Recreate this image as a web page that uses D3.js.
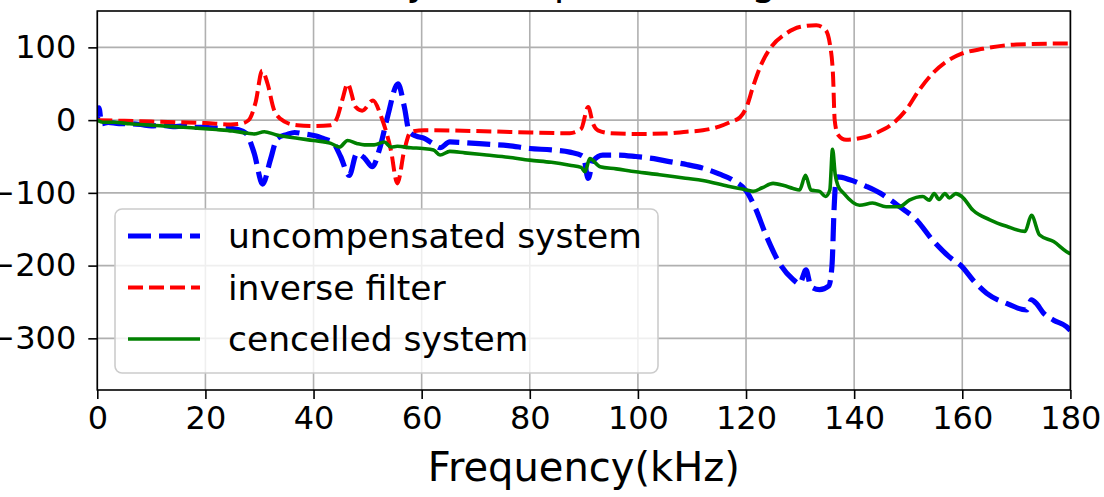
<!DOCTYPE html>
<html>
<head>
<meta charset="utf-8">
<script src="https://cdn.jsdelivr.net/npm/d3@7"></script>
<style>
  body { margin: 0; background: #fff; }
  svg { display: block; font-family: "DejaVu Sans", sans-serif; }
</style>
</head>
<body>
<div id="chart"></div>
<script>
// basic dimensions
var width = 1104;
var height = 497;
var margin = { top: 11, right: 33.6, bottom: 107, left: 97.3 };

// DATA (frequency in kHz, magnitude)
var xTicks = [0, 20, 40, 60, 80, 100, 120, 140, 160, 180];
var yTicks = [-300, -200, -100, 0, 100];
var seriesNames = ["uncompensated system", "inverse filter", "cencelled system"];
var titleText = "Summary of amplitude (log)";
var xLabel = "Frequency(kHz)";

var uncompensated = [
  [0, -2], [0.3, 17], [0.8, -5], [2, -3], [4, -5], [6, -5], [8, -6], [10, -8], [12, -7],
  [14, -9], [16, -8], [18, -10], [20, -10], [22, -11], [24, -11], [26, -13], [27.5, -18],
  [29, -45], [30.6, -88], [32, -55], [33.3, -25], [35, -20], [36.5, -17], [38.3, -19],
  [40.5, -22], [42, -26], [43.5, -30], [45, -50], [46.6, -76], [48, -46], [49.4, -52],
  [50.9, -64], [52.2, -40], [53.7, 5], [55.6, 50], [56.8, 18], [57.7, -16], [59, -22],
  [60.5, -25], [62, -32], [63.4, -38], [65.2, -30], [68, -31], [72, -33], [76, -35],
  [80, -39], [84, -41], [87.4, -44], [89.9, -50], [90.8, -80], [91.7, -56], [93.5, -48],
  [96, -48], [99.6, -50], [103, -53], [105.8, -57], [109, -61], [112, -66], [115, -74],
  [117.7, -83], [120.1, -98], [121.6, -119], [123.8, -160], [126.2, -197], [128.7, -219],
  [129.9, -225], [131.1, -206], [132, -229], [133.6, -233], [135.3, -228], [135.9, -200],
  [136.3, -120], [136.6, -85], [137, -78], [139.2, -82], [142.2, -91], [144.7, -100],
  [148.4, -119], [151.5, -137], [154.5, -165], [157.6, -188], [159.9, -201], [162, -220],
  [164.5, -238], [168.2, -252], [171.9, -261], [172.8, -247], [173.7, -252], [175, -265],
  [176.9, -275], [179.3, -284], [180, -289]
];

var inverseFilter = [
  [0, 0], [5, -1], [10, -2], [15, -3], [20, -4], [24.7, -6], [26.5, -5], [28, 0],
  [29.3, 25], [30.5, 68], [31.5, 50], [32.7, 14], [34.6, -2], [37, -7], [40, -8],
  [43.2, -7], [44.4, 4], [45.4, 30], [46.3, 50], [47.8, 18], [49, 13], [51, 27],
  [52.5, 5], [54.3, -41], [55.5, -87], [56.8, -41], [58, -16], [60.5, -14], [70, -15],
  [80, -17], [87.4, -18], [89.5, -12], [90.8, 18], [91.7, -5], [92.6, -14], [95, -18],
  [100, -19], [105, -18.5], [109, -16], [112, -14], [115, -9], [117, -3], [118.9, 4],
  [120.1, 18], [121.3, 46], [122.9, 78], [124.7, 101], [127.4, 119], [129.9, 128],
  [133, 130.5], [134.7, 124], [135.5, 105], [136.1, 60], [136.4, 0], [137, -20],
  [138.5, -27], [141, -25], [144, -18], [147.1, -5], [149.6, 14], [152, 41], [154.5, 64],
  [157, 80], [160, 91.6], [163.8, 98], [170, 104], [180, 105.5]
];

var cancelled = [
  [0, 0], [1, -3], [3, -3], [6, -5], [10, -7], [14, -9], [18.5, -11], [22, -13], [25, -15],
  [27.8, -18], [29, -19], [30.9, -16], [33, -20], [37, -25], [40, -28], [43.2, -32],
  [44.8, -37], [46.3, -28], [48, -32], [49.4, -34], [51.2, -34], [53.1, -30], [54.3, -37],
  [55.5, -36], [58, -38], [60.2, -39], [62.2, -41], [63.4, -48], [65.2, -43], [68, -45],
  [72, -48], [76, -51], [80, -55], [84, -58], [87.4, -62], [89.5, -65], [90.2, -71],
  [91.1, -53], [93, -64], [96, -67], [99.6, -71], [104, -75], [108.8, -80], [112, -83],
  [116.7, -91], [120.1, -96], [121.3, -98], [123, -93], [125, -87], [127, -90],
  [128.7, -94], [129.9, -96], [131, -76], [132, -96], [133.6, -98], [134.7, -105],
  [135.5, -96], [136, -40], [136.5, -75], [137, -90], [138, -100], [141, -117],
  [143.4, -114], [145.9, -119], [148.4, -119], [150.2, -110], [152.7, -105], [153.9, -110],
  [154.8, -101], [155.7, -109], [156.8, -101], [157.6, -107], [158.8, -101], [159.9, -105],
  [162, -124], [165.1, -137], [168.2, -146], [171.6, -153], [172.8, -131], [174.3, -158],
  [176.9, -167], [179.3, -181], [180, -184]
];

// styles for the three lines
var styles = [
  { data: uncompensated, colour: "#0000ff", width: 5.2, dash: "23,8" },
  { data: inverseFilter, colour: "#ff0000", width: 4, dash: "15,6" },
  { data: cancelled, colour: "#008000", width: 3.6, dash: null }
];

var innerW = width - margin.left - margin.right;
var innerH = height - margin.top - margin.bottom;

// SCALES
var xScale = d3.scaleLinear().domain([0, 180]).range([0, innerW]);
var yScale = d3.scaleLinear().domain([-371, 150]).range([innerH, 0]);

var lineGen = d3.line()
  .curve(d3.curveMonotoneX)
  .x(function(d) { return xScale(d[0]); })
  .y(function(d) { return yScale(d[1]); });

var svgRoot = d3.select("#chart")
  .append("svg")
  .attr("width", width)
  .attr("height", height);

// title, mostly cut off by the top edge
svgRoot.append("text")
  .attr("x", 241)
  .attr("y", -5)
  .style("font-size", "39px")
  .text(titleText);

var svg = svgRoot.append("g")
  .attr("transform", "translate(" + margin.left + "," + margin.top + ")");

svg.append("clipPath")
  .attr("id", "plotClip")
  .append("rect")
  .attr("width", innerW)
  .attr("height", innerH);

// grid
svg.append("g").selectAll("line.vg")
  .data(xTicks)
  .enter().append("line")
  .attr("x1", function(d) { return xScale(d); })
  .attr("x2", function(d) { return xScale(d); })
  .attr("y1", 0).attr("y2", innerH)
  .attr("stroke", "#b0b0b0").attr("stroke-width", 1.6);

svg.append("g").selectAll("line.hg")
  .data(yTicks)
  .enter().append("line")
  .attr("y1", function(d) { return yScale(d); })
  .attr("y2", function(d) { return yScale(d); })
  .attr("x1", 0).attr("x2", innerW)
  .attr("stroke", "#b0b0b0").attr("stroke-width", 1.6);

// lines
var plot = svg.append("g").attr("clip-path", "url(#plotClip)");
styles.forEach(function(s) {
  plot.append("path")
    .attr("d", lineGen(s.data))
    .attr("fill", "none")
    .attr("stroke", s.colour)
    .attr("stroke-width", s.width)
    .attr("stroke-dasharray", s.dash)
    .attr("stroke-linejoin", "round");
});

// frame
svg.append("rect")
  .attr("width", innerW).attr("height", innerH)
  .attr("fill", "none").attr("stroke", "#000").attr("stroke-width", 1.6);

// axes
var xAxis = svg.append("g")
  .attr("transform", "translate(0," + innerH + ")")
  .call(d3.axisBottom(xScale).tickValues(xTicks).tickSize(9).tickPadding(7));

var yAxis = svg.append("g")
  .call(d3.axisLeft(yScale).tickValues(yTicks).tickSize(9).tickPadding(12));

[xAxis, yAxis].forEach(function(ax) {
  ax.select(".domain").remove();
  ax.selectAll(".tick line").attr("stroke", "#000").attr("stroke-width", 1.6);
  ax.selectAll(".tick text")
    .attr("fill", "#000")
    .style("font-family", "DejaVu Sans")
    .style("font-size", "32px");
});

svg.append("text")
  .attr("x", innerW / 2)
  .attr("y", innerH + 91)
  .attr("text-anchor", "middle")
  .style("font-size", "40px")
  .text(xLabel);

// legend
var legend = svg.append("g").attr("transform", "translate(" + (115 - margin.left) + "," + (209 - margin.top) + ")");
legend.append("rect")
  .attr("width", 543).attr("height", 164)
  .attr("rx", 7).attr("ry", 7)
  .attr("fill", "#fff").attr("fill-opacity", 0.8)
  .attr("stroke", "#cccccc").attr("stroke-width", 1.6);

styles.forEach(function(s, i) {
  var y = 27 + i * 51.5;
  legend.append("line")
    .attr("x1", 13).attr("x2", 85)
    .attr("y1", y).attr("y2", y)
    .attr("stroke", s.colour)
    .attr("stroke-width", s.width)
    .attr("stroke-dasharray", s.dash);
  legend.append("text")
    .attr("x", 113)
    .attr("y", y)
    .attr("dy", "0.35em")
    .style("font-size", "34.5px")
    .text(seriesNames[i]);
});
</script>
</body>
</html>
